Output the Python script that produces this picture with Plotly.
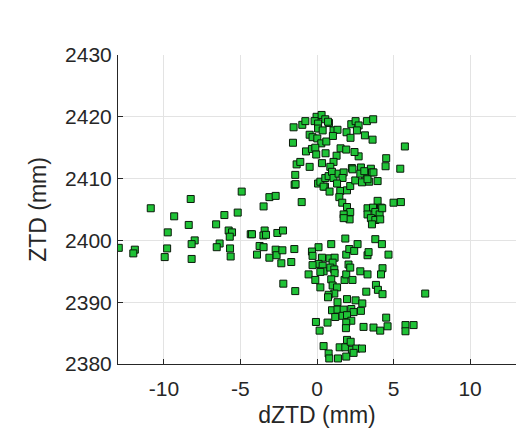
import plotly.graph_objects as go

# dZTD (mm) and ZTD (mm) for each sample
dztd = [
    -12.95, -11.9, -12.0, -10.86, -9.75, -9.79, -9.95, -9.33, -8.25, -8.38,
    -7.99, -8.19, -8.19, -6.59, -6.05, -6.36, -6.55, -5.18, -4.92, -5.77,
    -5.55, -5.7, -5.68, -5.64, -4.33, -4.25, -3.49, -3.11, -2.70, -3.42,
    -3.5, -3.33, -3.75, -3.49, -3.92, -3.11, -2.59, -2.22, -2.70, -2.64,
    -2.26, -2.33, -1.68, -1.48, -1.46, -2.2, -1.42,
    -1.53, -0.96, -0.76, -1.57, -0.03, 0.30, -0.16, 0.54, 0.07, 0.07,
    0.37, 0.78, -0.48, -0.29, 0.02, 0.28, 0.61, 1.08, 1.34, 1.04,
    -0.72, -0.33, -0.11, -0.05, 0.56, 1.28, 1.54, 1.91, 2.72, 1.93,
    2.19, 2.24, 2.52, 2.72, 2.61, 3.13, 3.26, 3.67, 3.63, 5.74,
    1.08, 0.33, -0.48, -1.33, -1.09, 0.87, 2.28, 2.87, 3.52, 4.52,
    4.48, 5.44, 2.45, 3.41, 3.15, 3.96, 3.59, 0.72, 0.52, 0.07,
    -1.42, -1.40, -1.0, 0.22, 0.54, 0.76, 0.98, 0.43, 0.82, 1.08,
    1.41, 1.74, 1.67, 1.31, 1.52, 1.46, 1.65, 1.96, 2.17, 2.32,
    2.5, 2.83, 2.94, 3.09, 3.3, 3.69, 5.0, 5.48, 3.96, 1.96,
    2.17, 1.74, 2.13, 1.74, 3.3, 3.66, 4.18, 3.81, 4.09, 3.3,
    3.52, 3.81, 4.13, 3.59, 4.26,
    1.85, 0.93, 0.1, -0.33, -0.29, 0.33, 0.82, 1.15, 1.02, 0.1,
    -0.29, 0.37, 0.43, 0.22, 0.87, 1.13, 1.15, -0.55, -0.11, 0.22,
    0.93, 1.02, 1.31, 1.8, 1.91, 2.32, 2.06, 2.17, 1.91, 2.11,
    2.43, 2.65, 2.83, 3.3, 3.3, 3.37, 3.81, 4.24, 4.67, 4.28,
    4.18, 3.85, 3.98, 3.22, 1.13, 0.76, 4.28, 7.07,
    0.72, 1.96, 2.52, 2.96, 1.34, 0.98, 1.34, 1.74, 2.24, 2.39,
    2.87, 1.19, 1.67, 1.96, 2.24, 1.91, 1.89, 0.69, -0.07, 0.17,
    3.04, 3.69, 4.13, 4.61, 4.52, 5.78, 5.78, 6.31,
    0.43, 0.76, 0.8, 1.37, 1.48, 1.85, 1.96, 2.2, 2.28, 2.57,
    2.94, 1.91, 2.39,
]
ztd = [
    2398.8, 2398.5, 2397.9, 2405.2, 2401.3, 2398.7, 2397.3, 2403.9, 2406.7, 2402.5,
    2400.0, 2399.4, 2397.0, 2402.6, 2404.1, 2399.5, 2398.9, 2404.5, 2407.9, 2401.6,
    2401.3, 2400.6, 2398.7, 2397.4, 2401.0, 2401.0, 2405.5, 2407.0, 2407.2, 2401.6,
    2400.8, 2400.9, 2399.1, 2398.9, 2397.7, 2397.2, 2401.2, 2401.6, 2398.5, 2397.6,
    2398.4, 2396.3, 2396.5, 2398.6, 2409.0, 2393.0, 2391.8,
    2418.3, 2418.7, 2419.3, 2415.8, 2420.0, 2420.3, 2419.3, 2419.6, 2418.9, 2418.1,
    2417.8, 2419.0, 2417.1, 2416.7, 2416.5, 2415.7, 2416.0, 2417.8, 2417.9, 2416.9,
    2414.4, 2414.8, 2415.0, 2413.9, 2414.1, 2413.7, 2414.9, 2414.7, 2413.6, 2417.5,
    2416.6, 2418.8, 2419.3, 2418.6, 2417.8, 2417.0, 2419.3, 2419.6, 2416.3, 2415.2,
    2412.7, 2412.5, 2411.9, 2412.3, 2412.7, 2411.9, 2411.7, 2411.8, 2411.6, 2413.3,
    2412.0, 2411.6, 2414.3, 2409.5, 2410.2, 2409.6, 2411.0, 2419.2, 2408.7, 2409.2,
    2410.6, 2409.1, 2406.2, 2409.5, 2410.1, 2410.4, 2411.1, 2408.7, 2407.9, 2410.1,
    2410.8, 2411.0, 2410.1, 2409.2, 2408.0, 2407.0, 2406.1, 2408.1, 2408.8, 2411.5,
    2409.7, 2410.8, 2409.4, 2411.2, 2409.9, 2411.0, 2406.1, 2406.2, 2406.4, 2405.4,
    2404.6, 2404.2, 2403.4, 2403.6, 2405.2, 2405.3, 2405.3, 2404.6, 2404.2, 2404.2,
    2403.6, 2403.3, 2403.4, 2402.6, 2405.2,
    2400.3, 2399.4, 2398.9, 2398.2, 2397.5, 2397.2, 2397.1, 2397.2, 2396.4, 2396.2,
    2396.0, 2395.9, 2395.0, 2394.9, 2395.6, 2395.3, 2394.7, 2394.5, 2393.6, 2392.4,
    2393.7, 2392.7, 2392.4, 2393.6, 2394.5, 2393.6, 2396.1, 2395.6, 2397.7, 2398.6,
    2398.3, 2399.4, 2395.0, 2394.5, 2397.6, 2398.1, 2400.2, 2399.4, 2397.7, 2395.5,
    2394.5, 2392.8, 2392.0, 2391.7, 2391.4, 2391.2, 2391.3, 2391.4,
    2390.8, 2390.5, 2390.3, 2389.8, 2390.0, 2388.7, 2388.8, 2388.8, 2388.9, 2388.4,
    2388.6, 2387.6, 2387.8, 2387.9, 2387.0, 2386.7, 2385.8, 2386.7, 2386.8, 2385.4,
    2386.0, 2385.9, 2385.4, 2386.1, 2387.5, 2386.3, 2385.3, 2386.3,
    2382.9, 2381.7, 2380.9, 2380.9, 2382.7, 2382.7, 2383.9, 2383.6, 2382.3, 2382.5,
    2382.5, 2381.2, 2381.8,
]

x_ticks = [-10, -5, 0, 5, 10]
x_tick_labels = ["-10", "-5", "0", "5", "10"]
y_ticks = [2380, 2390, 2400, 2410, 2420, 2430]

font_family = "Liberation Sans, Arial, sans-serif"
axis_color = "#262626"
grid_color = "#e3e3e3"

fig = go.Figure(
    go.Scatter(
        x=dztd,
        y=ztd,
        mode="markers",
        marker=dict(
            symbol="square",
            size=7,
            color="#1fc236",
            line=dict(color="#0a1a0a", width=1),
        ),
        hoverinfo="skip",
    )
)

fig.update_layout(
    width=516,
    height=428,
    margin=dict(l=118, r=0, t=55, b=64),
    paper_bgcolor="white",
    plot_bgcolor="white",
    showlegend=False,
    font=dict(family=font_family, color=axis_color, size=21),
)

fig.update_xaxes(
    range=[-13, 13],
    tickvals=x_ticks,
    ticktext=x_tick_labels,
    ticks="inside",
    ticklen=5,
    tickcolor=axis_color,
    showline=True,
    linecolor=axis_color,
    linewidth=1,
    showgrid=True,
    gridcolor=grid_color,
    gridwidth=1,
    zeroline=False,
    tickfont=dict(size=21),
    ticklabelstandoff=6,
    title=dict(text="dZTD (mm)", font=dict(size=23), standoff=22),
    automargin=False,
)

fig.update_yaxes(
    range=[2380, 2430],
    tickvals=y_ticks,
    ticks="inside",
    ticklen=5,
    tickcolor=axis_color,
    showline=True,
    linecolor=axis_color,
    linewidth=1,
    showgrid=True,
    gridcolor=grid_color,
    gridwidth=1,
    zeroline=False,
    tickfont=dict(size=21),
    ticklabelstandoff=1,
    title=dict(text="ZTD (mm)", font=dict(size=23), standoff=12),
    automargin=False,
)

fig.write_html("out.html")
